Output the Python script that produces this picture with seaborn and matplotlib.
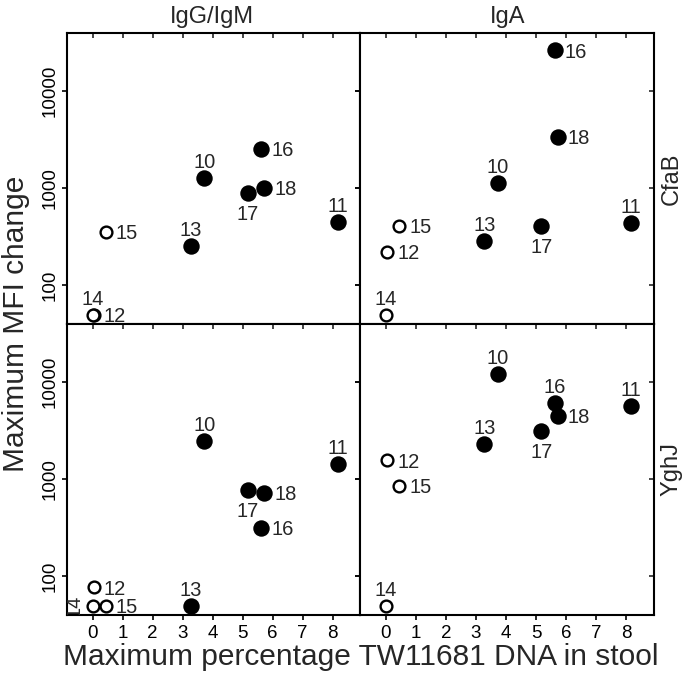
import pandas as pd
import seaborn as sns
import matplotlib.pyplot as plt

# subjects and their max % TW11681 DNA in stool
subjects = [10, 11, 12, 13, 14, 15, 16, 17, 18]
dna_pct = [3.72, 8.17, 0.05, 3.28, 0.0, 0.45, 5.63, 5.18, 5.73]
not_shedding = [False, False, True, False, True, True, False, False, False]

# maximum MFI change per antigen / isotype
cfab_igg = [1250, 450, 50, 252, 50, 351, 2500, 888, 1000]
cfab_iga = [1126, 436, 219, 285, 50, 405, 25800, 405, 3360]
yghj_igg = [2450, 1430, 77, 50, 50, 50, 316, 771, 713]
yghj_iga = [11900, 5610, 1550, 2270, 50, 855, 5990, 3110, 4450]

# where the subject number sits: a=above, r=right, b=below, rot=rotated at left
cfab_igg_lab = ["a", "a", "r", "a", "a", "r", "r", "b", "r"]
cfab_iga_lab = ["a", "a", "r", "a", "a", "r", "r", "b", "r"]
yghj_igg_lab = ["a", "a", "r", "a", "rot", "r", "r", "b", "r"]
yghj_iga_lab = ["a", "a", "r", "a", "a", "r", "a", "b", "r"]

antigens = ["CfaB", "YghJ"]
isotypes = ["IgG/IgM", "IgA"]

rows = []
for ag, iso, vals, labs in [("CfaB", "IgG/IgM", cfab_igg, cfab_igg_lab),
                            ("CfaB", "IgA", cfab_iga, cfab_iga_lab),
                            ("YghJ", "IgG/IgM", yghj_igg, yghj_igg_lab),
                            ("YghJ", "IgA", yghj_iga, yghj_iga_lab)]:
    for s, x, o, v, l in zip(subjects, dna_pct, not_shedding, vals, labs):
        rows.append({"antigen": ag, "isotype": iso, "subject": s, "dna": x,
                     "open": o, "mfi": v, "lab": l})
df = pd.DataFrame(rows)

sns.set_theme(style="ticks")
plt.rcParams["font.family"] = ["Liberation Sans", "DejaVu Sans"]

LAB_FS = 14.5
# offset (points), ha, va  -- baseline anchored so digits sit like the original
offsets = {"a": ((0, 7.2), "center", "baseline"),
           "r": ((7, -5.2), "left", "baseline"),
           "b": ((0, -19.5), "center", "baseline")}


def draw_panel(data, **kws):
    ax = plt.gca()
    sns.scatterplot(data=data[~data["open"]], x="dna", y="mfi", s=140,
                    color="black", linewidth=0, ax=ax, legend=False, zorder=3)
    sns.scatterplot(data=data[data["open"]], x="dna", y="mfi", s=72,
                    color="white", edgecolor="black", linewidth=1.7, ax=ax,
                    legend=False, zorder=3)
    for _, r in data.iterrows():
        if r["lab"] == "rot":
            ax.annotate(str(r["subject"]), (r["dna"], r["mfi"]), xytext=(-6.3, -0.5),
                        textcoords="offset points", rotation=90, ha="right",
                        va="center", fontsize=LAB_FS, annotation_clip=False,
                        clip_on=True)
        else:
            off, ha, va = offsets[r["lab"]]
            ax.annotate(str(r["subject"]), (r["dna"], r["mfi"]), xytext=off,
                        textcoords="offset points", ha=ha, va=va, fontsize=LAB_FS)


g = sns.FacetGrid(df, row="antigen", col="isotype", row_order=antigens,
                  col_order=isotypes, despine=False, height=3, aspect=1)
g.map_dataframe(draw_panel)
g.set(yscale="log", xlim=(-0.85, 8.93), ylim=(40, 39000))
g.set_titles("")
g.set_axis_labels("", "")

fig = g.figure
fig.set_size_inches(6.85, 6.79)
fig.subplots_adjust(left=0.0978, right=0.9547, top=0.9514, bottom=0.0943,
                    wspace=0, hspace=0)

for i, row_axes in enumerate(g.axes):
    for j, ax in enumerate(row_axes):
        ax.set_xticks(range(0, 9))
        ax.set_yticks([100, 1000, 10000])
        ax.set_yticklabels(["100", "1000", "10000"])
        ax.minorticks_off()
        for sp in ax.spines.values():
            sp.set_linewidth(1.5)
            sp.set_color("black")
        ax.tick_params(direction="out", length=3.8, width=1.2, color="black",
                       labelsize=13.5, labelcolor="black")
        ax.tick_params(axis="y", pad=2)
        ax.tick_params(axis="x", pad=3.3)
        for t in ax.get_yticklabels():
            t.set_rotation(90)
            t.set_va("center")
        top = ax.secondary_xaxis("top")
        top.set_xticks(range(0, 9))
        top.tick_params(direction="in", length=3.8, width=1.2, labeltop=False)
        right = ax.secondary_yaxis("right")
        right.set_yticks([100, 1000, 10000])
        right.minorticks_off()
        right.tick_params(direction="in", length=3.8, width=1.2, labelright=False)
        ax.grid(False)

# strip labels
fig.text(0.310, 0.9657, isotypes[0], ha="center", va="baseline", fontsize=17)
fig.text(0.741, 0.9657, isotypes[1], ha="center", va="baseline", fontsize=17)
fig.text(0.980, 0.737, antigens[0], ha="center", va="center", rotation=90,
         fontsize=17)
fig.text(0.980, 0.309, antigens[1], ha="center", va="center", rotation=90,
         fontsize=17)

fig.text(0.024, 0.523, "Maximum MFI change", rotation=90, ha="center",
         va="center", fontsize=21.5)
fig.text(0.526, 0.0206, "Maximum percentage TW11681 DNA in stool",
         ha="center", va="baseline", fontsize=21.5)

fig.savefig("out.png", dpi=100)
